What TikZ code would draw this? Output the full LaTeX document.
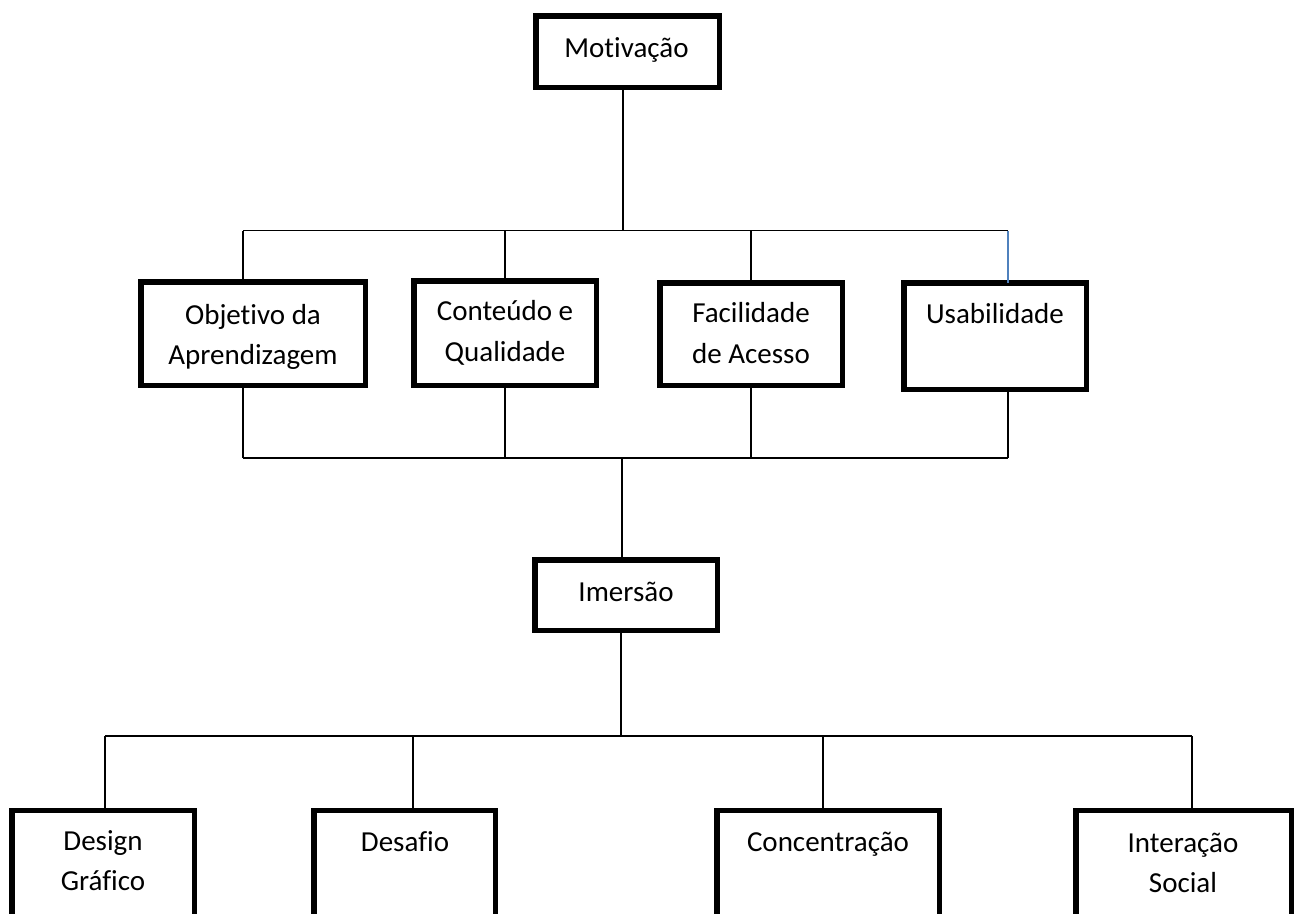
\documentclass[tikz,border=0pt]{standalone}
\usepackage{fontspec}
\setmainfont[Ligatures=NoCommon]{Carlito}
\definecolor{stubblue}{RGB}{79,129,189}
\begin{document}
\begin{tikzpicture}[x=1pt,y=-1pt,
  box/.style={draw=black, line width=5.5pt, rectangle, inner sep=0pt, outer sep=0pt, fill=white},
  wire/.style={draw=black, line width=1.5pt},
  bluewire/.style={draw=stubblue, line width=1.5pt},
  lbl/.style={anchor=base, inner sep=0pt, font=\fontsize{29}{35}\selectfont}]
\clip (0,0) rectangle (1301,913);
\fill[white] (0,0) rectangle (1301,913);

% bus coordinates
\coordinate (ubL) at (243,230.5);
\coordinate (ubM) at (623,230.5);
\coordinate (ubR) at (1008,230.5);
\coordinate (lbL) at (243,458);
\coordinate (lbM) at (622,458);
\coordinate (lbR) at (1008,458);
\coordinate (bbM) at (621,736);
\coordinate (bb1) at (105,736);
\coordinate (bb2) at (413,736);
\coordinate (bb3) at (823,736);
\coordinate (bb4) at (1192,736);

% connectors (drawn first, boxes on top)
\draw[wire] (ubL) -- (ubR);
\draw[wire] (lbL) -- (lbR);
\draw[wire] (bb1) -- (bb4);

% boxes
\node[box, minimum width=183.5pt, minimum height=71.5pt] (mot) at (627.5,51.5) {};
\node[box, minimum width=224.5pt, minimum height=103.5pt] (obj) at (253,333.5) {};
\node[box, minimum width=182.5pt, minimum height=104.5pt] (con) at (505,333) {};
\node[box, minimum width=182.5pt, minimum height=102.5pt] (fac) at (751,334) {};
\node[box, minimum width=182.5pt, minimum height=106.5pt] (usa) at (995,336) {};
\node[box, minimum width=182.5pt, minimum height=70.5pt] (ime) at (626,595) {};
\node[box, minimum width=182.5pt, minimum height=190pt] (dg) at (103,905.5) {};
\node[box, minimum width=181.5pt, minimum height=190pt] (des) at (404.5,905.5) {};
\node[box, minimum width=222.5pt, minimum height=190pt] (conc) at (828,905.5) {};
\node[box, minimum width=215.5pt, minimum height=190pt] (int) at (1183.5,905.5) {};

% vertical connectors
\draw[wire] (mot.south -| ubM) -- (ubM);
\draw[wire] (ubL) -- (ubL |- obj.north);
\draw[wire] (con.north |- ubL) -- (con.north);
\draw[wire] (fac.north |- ubL) -- (fac.north);
\draw[bluewire] (ubR) -- (ubR |- usa.north);

\draw[wire] (obj.south -| lbL) -- (lbL);
\draw[wire] (con.south) -- (con.south |- lbL);
\draw[wire] (fac.south) -- (fac.south |- lbL);
\draw[wire] (usa.south -| lbR) -- (lbR);
\draw[wire] (lbM) -- (lbM |- ime.north);

\draw[wire] (ime.south -| bbM) -- (bbM);
\draw[wire] (bb1) -- (bb1 |- dg.north);
\draw[wire] (bb2) -- (bb2 |- des.north);
\draw[wire] (bb3) -- (bb3 |- conc.north);
\draw[wire] (bb4) -- (bb4 |- int.north);

% labels
\node[lbl] (tmot) at (626.5,57) {Motivação};
\node[lbl] (tobj1) at (253,324) {Objetivo da};
\node[lbl] (tobj2) at (253,364) {Aprendizagem};
\node[lbl] (tcon1) at (505,320) {Conteúdo e};
\node[lbl] (tcon2) at (505,361) {Qualidade};
\node[lbl] (tfac1) at (751,322) {Facilidade};
\node[lbl] (tfac2) at (751,363) {de Acesso};
\node[lbl] (tusa) at (995,323) {Usabilidade};
\node[lbl] (time) at (626,601) {Imersão};
\node[lbl] (tdg1) at (103,850) {Design};
\node[lbl] (tdg2) at (103,890) {Gráfico};
\node[lbl] (tdes) at (405,851) {Desafio};
\node[lbl] (tconc) at (828,851) {Concentração};
\node[lbl] (tint1) at (1183,852) {Interação};
\node[lbl] (tint2) at (1183,892) {Social};
\end{tikzpicture}
\end{document}
